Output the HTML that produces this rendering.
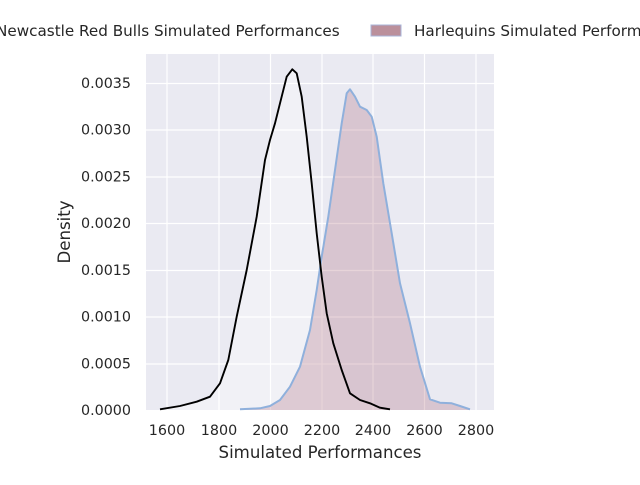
<!DOCTYPE html>
<html><head><meta charset="utf-8"><style>
html,body{margin:0;padding:0;background:#fff;}
svg text{font-family:"DejaVu Sans","Liberation Sans",sans-serif;fill:#262626;}
</style></head><body>
<svg width="640" height="480" viewBox="0 0 640 480" xmlns="http://www.w3.org/2000/svg">
<rect x="146" y="54" width="348" height="356" fill="#eaeaf2"/>
<g stroke="#fff" stroke-width="1.2">
<line x1="167" y1="54" x2="167" y2="410"/><line x1="219" y1="54" x2="219" y2="410"/>
<line x1="270.5" y1="54" x2="270.5" y2="410"/><line x1="322" y1="54" x2="322" y2="410"/>
<line x1="373" y1="54" x2="373" y2="410"/><line x1="424.5" y1="54" x2="424.5" y2="410"/>
<line x1="476" y1="54" x2="476" y2="410"/>
<line x1="146" y1="83.5" x2="494" y2="83.5"/><line x1="146" y1="130" x2="494" y2="130"/>
<line x1="146" y1="177" x2="494" y2="177"/><line x1="146" y1="223.5" x2="494" y2="223.5"/>
<line x1="146" y1="270.5" x2="494" y2="270.5"/><line x1="146" y1="317" x2="494" y2="317"/>
<line x1="146" y1="364" x2="494" y2="364"/>
</g>
<path d="M160,409.3 L180,406 196.7,401.7 210,396.7 220,383.3 228.3,360 236.7,316.7 246.7,270 256.7,216.7 265,160 270,140 275,123.3 280,103.3 286.7,76.7 292.3,69.3 296.7,73.3 301.7,96.7 306.7,136.7 311.7,183.3 316.7,233.3 321.7,276.7 326.7,313.3 333.3,343.3 341.7,370 350,393.3 360,400 370,403.3 380,407.7 390,409.3 L390,410 L160,410Z" fill="#ffffff" fill-opacity="0.35"/>
<path d="M240,409.3 L260,408.3 270,406 280,400 290,386.7 300,366.7 310,330 316.7,290 321.7,256.7 328.3,216.7 335,170 341.7,123.3 346.7,93.3 350,89.3 355,96.7 360,106.7 366.7,110 371.7,116.7 376.7,136.7 383.3,183.3 391.7,233.3 400,283.3 410,323.3 420,366.7 430,399.3 440,402.7 451.7,403.3 460,406 470,409.3 L470,410 L240,410Z" fill="#b07080" fill-opacity="0.3"/>
<path d="M240,409.3 L260,408.3 270,406 280,400 290,386.7 300,366.7 310,330 316.7,290 321.7,256.7 328.3,216.7 335,170 341.7,123.3 346.7,93.3 350,89.3 355,96.7 360,106.7 366.7,110 371.7,116.7 376.7,136.7 383.3,183.3 391.7,233.3 400,283.3 410,323.3 420,366.7 430,399.3 440,402.7 451.7,403.3 460,406 470,409.3" fill="none" stroke="#8fb0dc" stroke-width="2" stroke-linejoin="round"/>
<path d="M160,409.3 L180,406 196.7,401.7 210,396.7 220,383.3 228.3,360 236.7,316.7 246.7,270 256.7,216.7 265,160 270,140 275,123.3 280,103.3 286.7,76.7 292.3,69.3 296.7,73.3 301.7,96.7 306.7,136.7 311.7,183.3 316.7,233.3 321.7,276.7 326.7,313.3 333.3,343.3 341.7,370 350,393.3 360,400 370,403.3 380,407.7 390,409.3" fill="none" stroke="#000" stroke-width="1.9" stroke-linejoin="round"/>
<g font-size="14.3" text-anchor="end">
<text x="131" y="415">0.0000</text><text x="131" y="368.5">0.0005</text>
<text x="131" y="321.5">0.0010</text><text x="131" y="275">0.0015</text>
<text x="131" y="228">0.0020</text><text x="131" y="181.5">0.0025</text>
<text x="131" y="134.5">0.0030</text><text x="131" y="88">0.0035</text>
</g>
<g font-size="14.3" text-anchor="middle">
<text x="167" y="435">1600</text><text x="219" y="435">1800</text>
<text x="270.5" y="435">2000</text><text x="322" y="435">2200</text>
<text x="373" y="435">2400</text><text x="424.5" y="435">2600</text>
<text x="476" y="435">2800</text>
<text x="320" y="458" font-size="16.6">Simulated Performances</text>
<text transform="translate(70,232) rotate(-90)" font-size="16.6">Density</text>
</g>
<text x="-4" y="36" font-size="15.2">Newcastle Red Bulls Simulated Performances</text>
<rect x="371" y="25" width="30" height="11" fill="#bb909c" stroke="#a8b4d8" stroke-width="1"/>
<text x="414" y="36" font-size="15.2">Harlequins Simulated Performances</text>
</svg>
</body></html>
